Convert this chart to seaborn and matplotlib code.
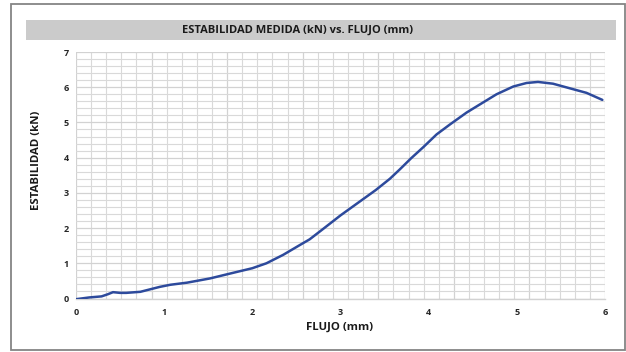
import numpy as np
import matplotlib
matplotlib.use("Agg")
import matplotlib.pyplot as plt
from matplotlib.patches import Rectangle
import seaborn as sns
import pandas as pd

# ---- data ----
flujo = [0.00, 0.15, 0.29, 0.36, 0.42, 0.50, 0.57, 0.73, 0.84, 0.95, 1.07, 1.26,
         1.52, 1.80, 2.00, 2.16, 2.35, 2.54, 2.65, 2.80, 3.00, 3.20, 3.40, 3.56,
         3.67, 3.80, 3.94, 4.09, 4.24, 4.43, 4.58, 4.77, 4.96, 5.11, 5.24, 5.41,
         5.60, 5.79, 5.97]
estabilidad = [-0.02, 0.03, 0.06, 0.12, 0.18, 0.16, 0.16, 0.19, 0.26, 0.33, 0.39, 0.45,
               0.57, 0.74, 0.86, 1.00, 1.24, 1.52, 1.68, 1.97, 2.36, 2.72, 3.08, 3.40,
               3.66, 3.98, 4.30, 4.66, 4.94, 5.28, 5.51, 5.80, 6.02, 6.12, 6.15, 6.10,
               5.97, 5.84, 5.64]
x_labels = [0, 1, 2, 3, 4, 5, 6]
y_labels = [0, 1, 2, 3, 4, 5, 6, 7]

title = "ESTABILIDAD MEDIDA (kN) vs. FLUJO (mm)"
xlabel = "FLUJO (mm)"
ylabel = "ESTABILIDAD (kN)"

df = pd.DataFrame({"flujo": flujo, "estabilidad": estabilidad})

sns.set_style("white")
plt.rcParams["font.family"] = ["Open Sans", "DejaVu Sans"]

W, H = 626, 352
fig = plt.figure(figsize=(W / 100, H / 100), dpi=100)

def fx(px):
    return px / W

def fy(py):
    return 1 - py / H

# outer frame
fig.patches.append(Rectangle((fx(11), fy(350)), fx(624.5) - fx(11), fy(3.5) - fy(350),
                             transform=fig.transFigure, fill=False,
                             edgecolor="#858585", linewidth=1.3, zorder=0))
# title band
fig.patches.append(Rectangle((fx(26), fy(40)), fx(616) - fx(26), fy(20) - fy(40),
                             transform=fig.transFigure, facecolor="#cbcbcb",
                             edgecolor="none", zorder=0))
fig.text(fx(298), fy(30.5), title, ha="center", va="center",
         fontsize=8.0, fontweight="bold", color="#1a1a1a")

left, right, top, bottom = 76, 605, 52, 298.5
ax = fig.add_axes([fx(left), fy(bottom), fx(right) - fx(left), fy(top) - fy(bottom)])

sns.lineplot(data=df, x="flujo", y="estabilidad", ax=ax, sort=False,
             color="#2d4a9c", linewidth=1.8, zorder=5)

ax.set_xlim(0, 6)
ax.set_ylim(0, 7)

# grid: x major every 6/7, minor every 6/35 ; y major 1, minor 0.2
ax.set_xticks(np.arange(8) * 6 / 7)
ax.set_xticks(np.arange(36) * 6 / 35, minor=True)
ax.set_yticks(y_labels)
ax.set_yticks(np.arange(36) * 0.2, minor=True)
ax.set_yticklabels([str(v) for v in y_labels])
ax.tick_params(axis="x", which="major", length=4, width=0.8, color="#c8c8c8",
               labelbottom=False, direction="out")
ax.tick_params(axis="x", which="minor", length=0)
ax.tick_params(axis="y", which="both", length=0, pad=5)
for lab in ax.get_yticklabels():
    lab.set_fontweight("bold")
    lab.set_fontsize(6.5)
ax.grid(True, which="major", color="#d2d2d2", linewidth=0.9)
ax.grid(True, which="minor", color="#d9d9d9", linewidth=0.8)
ax.set_axisbelow(True)

for s in ["top", "right", "left"]:
    ax.spines[s].set_visible(False)
ax.spines["bottom"].set_color("#d2d2d2")
ax.spines["bottom"].set_linewidth(1.0)

sec = ax.secondary_xaxis("bottom")
sec.set_xticks(x_labels)
sec.set_xticklabels([str(v) for v in x_labels])
sec.tick_params(length=0, pad=7)
sec.spines["bottom"].set_visible(False)
for lab in sec.get_xticklabels():
    lab.set_fontweight("bold")
    lab.set_fontsize(6.5)

ax.set_xlabel("")
ax.set_ylabel("")
fig.text(fx(340), fy(327), xlabel, ha="center", va="center",
         fontsize=8.2, fontweight="bold", color="#1a1a1a")
fig.text(fx(37), fy(160), ylabel, ha="center", va="center", rotation=90,
         fontsize=8.2, fontweight="bold", color="#1a1a1a")

fig.savefig("out.png", dpi=100)
